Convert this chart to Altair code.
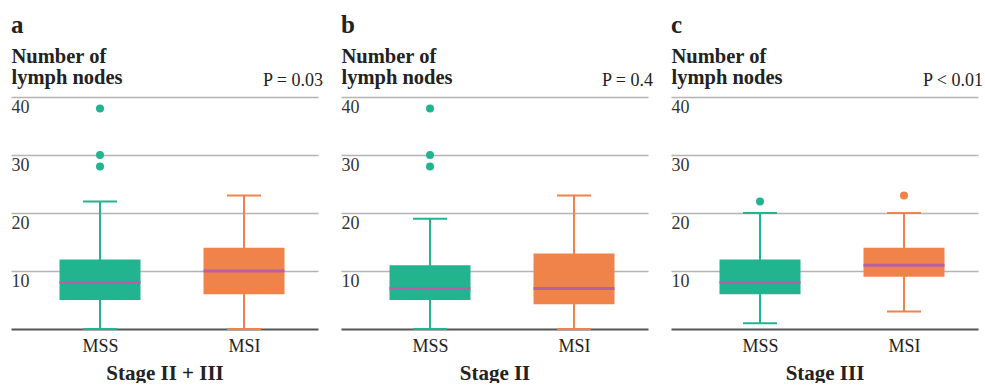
import altair as alt
import pandas as pd

# ---- data ----
letters = ["a", "b", "c"]
stages = ["Stage II + III", "Stage II", "Stage III"]
p_values = ["P = 0.03", "P = 0.4", "P < 0.01"]
groups = ["MSS", "MSI"]

whisker_low = [[0, 0], [0, 0], [1, 3]]
q1 = [[5, 6], [5, 4.25], [6, 9]]
median = [[8, 10], [7, 7], [8, 11]]
q3 = [[12, 14], [11, 13], [12, 14]]
whisker_high = [[22, 23], [19, 23], [20, 20]]
outlier_mss = [[28, 30, 38], [28, 30, 38], [22]]
outlier_msi = [[], [], [23]]

TEAL = "#22b48f"
ORANGE = "#f08349"
PURPLE = "#b860a0"
SERIF = "'Liberation Serif', 'Times New Roman', serif"
TEXT = "#222222"

W, H = 307, 232

color_scale = alt.Scale(domain=groups, range=[TEAL, ORANGE])


def panel(i):
    box_df = pd.DataFrame({
        "group": groups,
        "low": whisker_low[i],
        "q1": q1[i],
        "median": median[i],
        "q3": q3[i],
        "high": whisker_high[i],
    })
    out_rows = [{"group": "MSS", "value": v} for v in outlier_mss[i]] + \
               [{"group": "MSI", "value": v} for v in outlier_msi[i]]
    out_df = pd.DataFrame(out_rows, columns=["group", "value"])

    x = alt.X(
        "group:N",
        sort=groups,
        scale=alt.Scale(type="point", padding=0.566, align=0.546),
        axis=alt.Axis(
            title=stages[i], titleFont=SERIF, titleFontSize=21, titleFontWeight="bold",
            titleColor=TEXT, titlePadding=7,
            labelFont=SERIF, labelFontSize=18, labelColor=TEXT, labelAngle=0,
            labelPadding=8, ticks=False, tickSize=0,
            domainColor="#555555", domainWidth=2, grid=False, zindex=0,
        ),
    )
    yscale = alt.Scale(domain=[0, 40], nice=False, zero=True)
    y_axis = alt.Axis(
        values=[10, 20, 30, 40],
        title=["Number of", "lymph nodes"],
        titleAngle=0, titleAlign="left", titleBaseline="alphabetic",
        titleX=0, titleY=-34.4, titleLineHeight=20.7,
        titleFont=SERIF, titleFontSize=20.5, titleFontWeight="bold", titleColor=TEXT,
        labelAlign="left", labelBaseline="top", labelPadding=0, labelOffset=1,
        labelFont=SERIF, labelFontSize=18, labelColor="#333333",
        ticks=False, tickSize=0, domain=False,
        grid=True, gridColor="#b4b4b4", gridWidth=1.5, zindex=0,
    )
    color = alt.Color("group:N", scale=color_scale, legend=None)

    base = alt.Chart(box_df)
    whisker = base.mark_rule(strokeWidth=2).encode(
        x=x, y=alt.Y("low:Q", scale=yscale, axis=y_axis), y2="high:Q", color=color)
    cap_low = base.mark_tick(size=34, thickness=2, opacity=1).encode(
        x=x, y=alt.Y("low:Q", scale=yscale), color=color)
    cap_high = base.mark_tick(size=34, thickness=2, opacity=1).encode(
        x=x, y=alt.Y("high:Q", scale=yscale), color=color)
    box = base.mark_bar(size=81).encode(
        x=x, y=alt.Y("q1:Q", scale=yscale), y2="q3:Q", color=color)
    med = base.mark_tick(size=81, thickness=3, opacity=1, color=PURPLE).encode(
        x=x, y=alt.Y("median:Q", scale=yscale))
    pts = alt.Chart(out_df).mark_circle(size=64, opacity=1).encode(
        x=x, y=alt.Y("value:Q", scale=yscale), color=color)

    ptext = alt.Chart(pd.DataFrame({"p": [p_values[i]]})).mark_text(
        align="right", baseline="alphabetic", font=SERIF, fontSize=18, color=TEXT
    ).encode(x=alt.value(W + 5), y=alt.value(-11), text="p:N")
    ltext = alt.Chart(pd.DataFrame({"l": [letters[i]]})).mark_text(
        align="left", baseline="alphabetic", font=SERIF, fontSize=25,
        fontWeight="bold", color=TEXT
    ).encode(x=alt.value(0), y=alt.value(-64.4), text="l:N")

    return alt.layer(whisker, cap_low, cap_high, box, med, pts, ptext, ltext).properties(
        width=W, height=H)


chart = alt.hconcat(panel(0), panel(1), panel(2), spacing=23, bounds="flush").properties(
    padding={"left": 11, "top": 12, "right": 0, "bottom": 0},
    background="white",
).configure_view(stroke=None)

chart.save("out.html", embed_options={"renderer": "svg", "actions": False})
